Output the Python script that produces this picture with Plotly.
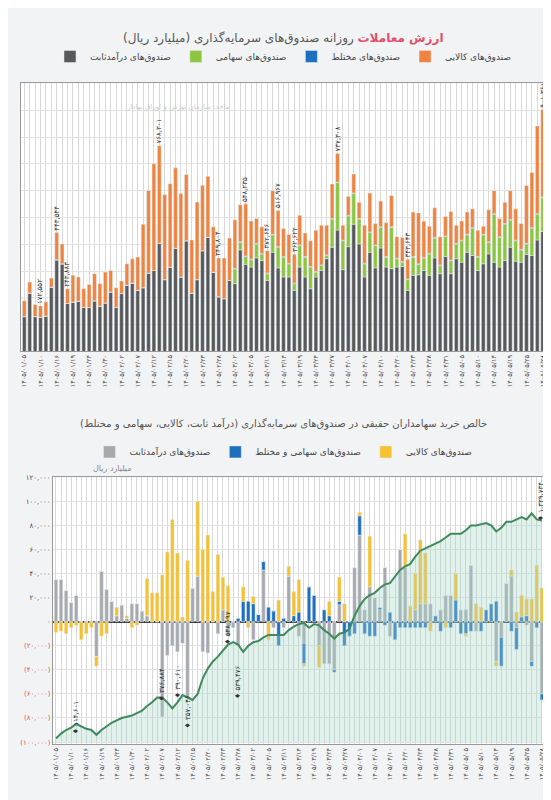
import plotly.graph_objects as go

FA = str.maketrans("0123456789", "۰۱۲۳۴۵۶۷۸۹")


def fa(s):
    return str(s).translate(FA)


# تاریخ‌های محور افقی (هر سه روز یک برچسب)
tick_dates = [
    "1405/01/05", "1405/01/10", "1405/01/16", "1405/01/19", "1405/01/24", "1405/01/30",
    "1405/02/02", "1405/02/07", "1405/02/12", "1405/02/15", "1405/02/20", "1405/02/23",
    "1405/02/28", "1405/03/02", "1405/03/05", "1405/03/11", "1405/03/14", "1405/03/19",
    "1405/03/24", "1405/03/27", "1405/04/01", "1405/04/07", "1405/04/10", "1405/04/20",
    "1405/04/23", "1405/04/28", "1405/04/31", "1405/05/05", "1405/05/10", "1405/05/14",
    "1405/05/19", "1405/05/25", "1405/05/28",
]

# ارزش معاملات روزانه (هزار میلیارد ریال)
fixed_income = [130, 218, 130, 127, 132, 240, 342, 327, 179, 184, 188, 164, 164, 189, 169, 181, 222, 164, 216, 247,
                255, 228, 238, 292, 302, 404, 268, 315, 385, 278, 413, 218, 268, 376, 426, 296, 204, 197, 265, 253,
                379, 325, 315, 349, 339, 265, 370, 312, 278, 278, 228, 315, 278, 234, 278, 302, 346, 389, 453, 305,
                391, 475, 401, 278, 370, 312, 386, 315, 309, 315, 317, 228, 284, 286, 302, 284, 349, 290, 354, 290,
                346, 333, 370, 358, 302, 327, 364, 333, 315, 339, 389, 337, 333, 362, 358, 416, 448]
equity = [0] * 39 + [55, 28, 29, 27, 52, 25, 25, 65, 77, 74, 49, 25, 80, 74, 81, 18, 19, 12, 105, 177, 108,
                     115, 114, 93, 49, 74, 83, 77, 37, 154, 31, 16, 40, 68, 39, 47, 80, 74, 31, 75, 49,
                     55, 80, 65, 102, 50, 108, 43, 179, 111, 136, 101, 76, 46, 39, 102, 96, 126]
mixed = [0] * 39 + [2] * 58
commodity = [59, 41, 45, 43, 53, 34, 102, 74, 55, 100, 90, 70, 86, 101, 84, 115, 80, 74, 47, 80,
             91, 124, 237, 309, 398, 364, 317, 311, 300, 311, 247, 198, 290, 244, 228, 169, 145, 152, 158, 181,
             138, 195, 143, 93, 99, 84, 163, 135, 105, 108, 108, 111, 88, 96, 154, 148, 111, 129, 107, 56,
             70, 71, 61, 142, 145, 80, 96, 126, 117, 80, 90, 74, 166, 190, 135, 101, 111, 105, 73, 181,
             68, 72, 83, 70, 98, 30, 120, 86, 68, 80, 108, 117, 96, 216, 206, 327, 327]
top_labels = {3: "172,552", 6: "443,544", 8: "243,883", 25: "768,301", 36: "349,804", 41: "548,235",
              45: "372,646", 47: "516,967", 50: "362,622", 58: "737,308", 71: "343,643", 96: "901,361"}

# خالص خرید سهامداران حقیقی (هزار میلیارد ریال)
net_fixed = [35, 35, 26, 16, 22, 0, 0, 0, -29, 42, 27, 17, 5, 14, 3, 15, 15, 9, 5, 0,
             0, -79, -28, -20, -25, -18, -63, 28, 38, -25, -26, 0, -10, 10, -12, -5, -20, 0, 0, -15,
             0, 43, 0, -5, 0, -5, 38, 0, -12, -18, 0, 0, -20, -35, -35, -40, 14, 0, 0, 45,
             72, 10, 29, 20, 10, 45, -12, 0, 60, 45, 0, 10, 15, 15, 15, 0, 10, 22, 22, 0,
             10, 10, 47, -8, 0, 0, 0, -33, -13, 32, 38, -5, 0, -3, -33, 0, -60]
net_equity_mixed = [0] * 36 + [3, 17, 17, 15,
                               6, 7, 12, 9, -20, 3, 0, 5, 8, -17, 29, 22, 0, 10, 5, -2, 3, -20, -12, -10,
                               16, -10, -12, -12, 2, -3, 8, -15, -5, -5, -5, -5, -5, -5, 0, 5, -8, 0, -5, 18,
                               -10, -10, -8, 0, -8, 10, 15, 17, -24, 0, -8, -18, 4, 5, -4, -5, -5]
net_commodity = [-9, -8, -10, -5, -3, -15, -10, -5, -8, -12, -10, 0, 7, 0, 2, -5, -3, 0, 31, 24,
                 24, 39, 58, 85, 57, 4, 51, 0, 62, 60, 72, 25, 56, 27, 30, 0, 0, 12, -5, 6,
                 0, 0, -15, 0, 18, 0, 8, 20, 27, -2, 0, 0, -18, 0, 12, 0, 20, 15, 0, 0,
                 3, 0, 42, 0, 0, 0, 0, 0, 0, 28, 13, 30, 53, 42, -8, 0, 0, -5, 0, 22,
                 0, -2, 0, 15, 12, 0, 0, -4, 0, 0, 5, 8, 18, 14, 19, 47, 28]
cumulative = [-97, -93, -90, -88, -85, -87, -89, -90, -94, -90, -87, -84, -82, -80, -79, -78, -76, -74, -70, -67,
              -63, -63, -67, -72, -67, -61, -63, -65, -60, -47, -39, -33, -29, -24, -19, -17, -19, -25, -20, -17,
              -16, -13, -11, -11, -11, -11, -7, -4, -2, -1, -5, -2, -3, -7, -10, -14, -10, -9, -6, 5,
              13, 19, 22, 24, 28, 31, 32, 38, 43, 46, 48, 54, 59, 61, 63, 65, 67, 70, 73, 73,
              73, 76, 80, 80, 81, 82, 80, 75, 78, 83, 83, 85, 87, 85, 90, 85, 84]
baseline = [-100] * len(cumulative)
bottom_labels = {4: ("114,601", -80), 21: ("376,884", -52), 24: ("390,610", -50), 26: ("257,046", -75),
                 34: ("548,697", -5), 36: ("539,476", -50), 96: ("1,339,734", 100)}

x = list(range(len(fixed_income)))
tick_idx = list(range(0, len(x), 3))
tick_txt = [fa(d) for d in tick_dates]
FONT = "DejaVu Sans"

fig = go.Figure()
for name, vals, col in [("صندوق‌های درآمدثابت", fixed_income, "#58595b"),
                        ("صندوق‌های سهامی", equity, "#8cc63e"),
                        ("صندوق‌های مختلط", mixed, "#1f6fbf"),
                        ("صندوق‌های کالایی", commodity, "#ef8440")]:
    fig.add_trace(go.Bar(x=x, y=[v * 1000 for v in vals], name=name, marker_color=col,
                         xaxis="x", yaxis="y", legend="legend"))

fig.add_trace(go.Scatter(x=x, y=[v * 1000 for v in baseline], mode="lines", line_width=0,
                         showlegend=False, xaxis="x2", yaxis="y2", hoverinfo="skip"))
fig.add_trace(go.Scatter(x=x, y=[v * 1000 for v in cumulative], mode="lines", line_width=0,
                         fill="tonexty", fillcolor="rgba(170,215,200,0.35)", showlegend=False,
                         xaxis="x2", yaxis="y2", hoverinfo="skip"))
for name, vals, col in [("صندوق‌های درآمدثابت", net_fixed, "#a7a9ac"),
                        ("صندوق‌های سهامی و مختلط", net_equity_mixed, "#1f6fbf"),
                        ("صندوق‌های کالایی", net_commodity, "#f6c12f")]:
    fig.add_trace(go.Bar(x=x, y=[v * 1000 for v in vals], name=name, marker_color=col,
                         xaxis="x2", yaxis="y2", legend="legend2"))
fig.add_trace(go.Scatter(x=x, y=[v * 1000 for v in cumulative], mode="lines",
                         line=dict(color="#3e8a5c", width=2), showlegend=False,
                         xaxis="x2", yaxis="y2"))

ann = []
for i, t in top_labels.items():
    tot = (fixed_income[i] + equity[i] + mixed[i] + commodity[i]) * 1000
    ann.append(dict(x=i, y=tot, xref="x", yref="y", text=fa(t), textangle=-90, showarrow=False,
                    yanchor="bottom", font=dict(size=7, color="#333")))
for i, (t, yv) in bottom_labels.items():
    ann.append(dict(x=i, y=yv * 1000, xref="x2", yref="y2", text="♦ " + fa(t), textangle=-90,
                    showarrow=False, font=dict(size=7, color="#333")))
ann += [
    dict(x=0.5, y=0.978, xref="paper", yref="paper", showarrow=False,
         text="<span style='color:#e0506a'><b>ارزش معاملات</b></span> روزانه صندوق‌های سرمایه‌گذاری (میلیارد ریال)",
         font=dict(size=12, color="#555")),
    dict(x=0.5, y=0.482, xref="paper", yref="paper", showarrow=False,
         text="خالص خرید سهامداران حقیقی در صندوق‌های سرمایه‌گذاری (درآمد ثابت، کالایی، سهامی و مختلط)",
         font=dict(size=10, color="#555")),
    dict(x=0.21, y=0.888, xref="paper", yref="paper", showarrow=False,
         text="ماخذ: سازمان بورس و اوراق بهادار", font=dict(size=7, color="#ccc")),
    dict(x=0.15, y=0.425, xref="paper", yref="paper", showarrow=False,
         text="میلیارد ریال", font=dict(size=8, color="#888")),
]

ytv = list(range(-100000, 120001, 20000))
ytt = []
for v in ytv:
    s = fa(f"{abs(v):,}")
    ytt.append(f"<span style='color:#d9534f'>({s})</span>" if v < 0 else s)

minor_grid = dict(dtick=1, showgrid=True, gridcolor="#d8d8d8", ticks="")
fig.update_layout(
    width=551, height=800, margin=dict(l=0, r=0, t=0, b=0),
    paper_bgcolor="#f2f3f4", plot_bgcolor="white", barmode="relative", bargap=0.3,
    font=dict(family=FONT, size=8, color="#444"), annotations=ann,
    legend=dict(orientation="h", x=0.5, xanchor="center", y=0.944, yanchor="middle",
                font=dict(size=9), traceorder="normal", bgcolor="rgba(0,0,0,0)"),
    legend2=dict(orientation="h", x=0.5, xanchor="center", y=0.446, yanchor="middle",
                 font=dict(size=9), traceorder="normal", bgcolor="rgba(0,0,0,0)"),
    xaxis=dict(domain=[0.022, 0.978], range=[-0.6, len(x) - 0.4], tickmode="array",
               tickvals=tick_idx, ticktext=tick_txt, tickangle=-90, tickfont=dict(size=6.5),
               showgrid=True, gridcolor="#d8d8d8", minor=minor_grid,
               showline=True, linecolor="#999", mirror=True),
    yaxis=dict(domain=[0.5725, 0.91], range=[0, 1000000], dtick=100000, showticklabels=False,
               gridcolor="#e2e2e2", showline=True, linecolor="#999", mirror=True, zeroline=False),
    xaxis2=dict(domain=[0.08, 0.976], range=[-0.6, len(x) - 0.4], tickmode="array",
                tickvals=tick_idx, ticktext=tick_txt, tickangle=-90, tickfont=dict(size=6.5),
                showgrid=True, gridcolor="#d8d8d8", minor=minor_grid,
                showline=True, linecolor="#999", mirror=True, anchor="y2"),
    yaxis2=dict(domain=[0.0775, 0.414], range=[-102000, 120000], tickvals=ytv, ticktext=ytt,
                tickfont=dict(size=7), gridcolor="#e2e2e2", zeroline=True, zerolinecolor="#333",
                zerolinewidth=1.5, showline=True, linecolor="#999", mirror=True, anchor="x2"),
)

fig.write_html("out.html")
